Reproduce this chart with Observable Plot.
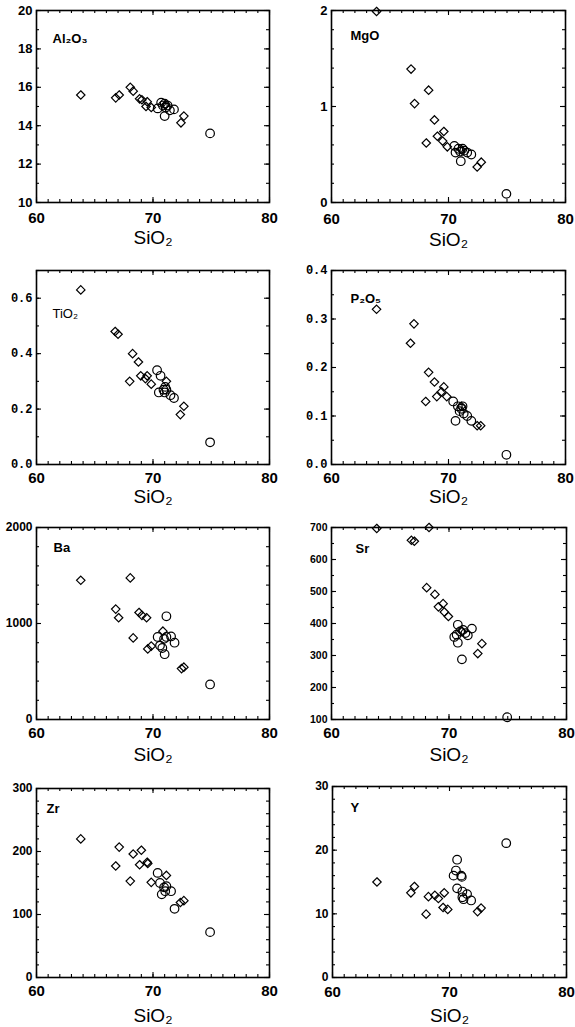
<!DOCTYPE html>
<html><head><meta charset="utf-8">
<script src="https://cdn.jsdelivr.net/npm/d3@7"></script>
<script src="https://cdn.jsdelivr.net/npm/@observablehq/plot@0.6"></script>
<style>
body{margin:0;background:#fff;}
#root{position:relative;width:575px;height:1027px;overflow:hidden;background:#fff;}
.panel{position:absolute;}
</style></head><body><div id="root"></div>
<script>
// ---- data: [SiO2, value] ----
const xTicks = [60, 70, 80];

const al2o3Diamonds = [[63.8,15.6],[66.8,15.45],[67.1,15.6],[68.05,16.0],[68.3,15.8],[68.85,15.4],[69.05,15.35],[69.5,15.25],[69.4,15.0],[69.85,14.95],[72.65,14.5],[72.4,14.15],[71.1,15.1]];
const al2o3Circles = [[70.4,14.9],[70.7,15.2],[70.85,15.05],[71.0,15.15],[71.1,14.95],[71.25,15.05],[71.45,14.8],[71.0,14.5],[71.8,14.85],[74.9,13.6]];
const al2o3Ticks = [10,12,14,16,18,20];

const mgoDiamonds = [[63.85,1.99],[66.8,1.39],[67.1,1.03],[68.3,1.17],[68.1,0.62],[68.8,0.86],[69.6,0.74],[69.05,0.69],[69.5,0.64],[69.9,0.58],[72.45,0.37],[72.8,0.42],[71.1,0.55]];
const mgoCircles = [[70.5,0.59],[70.6,0.52],[71.05,0.43],[70.85,0.56],[71.0,0.53],[71.2,0.56],[71.35,0.54],[71.6,0.52],[71.95,0.50],[74.95,0.09]];
const mgoTicks = [0,1,2];

const tio2Diamonds = [[63.8,0.63],[66.75,0.48],[67.0,0.47],[68.25,0.40],[68.75,0.37],[68.0,0.30],[68.95,0.32],[69.5,0.32],[69.35,0.31],[69.85,0.29],[71.15,0.30],[72.35,0.18],[72.65,0.21]];
const tio2Circles = [[70.35,0.34],[70.65,0.32],[70.5,0.26],[70.9,0.27],[71.05,0.28],[71.15,0.27],[71.0,0.26],[71.5,0.25],[71.8,0.24],[74.9,0.08]];
const tio2Ticks = [0,0.2,0.4,0.6];

const p2o5Diamonds = [[63.85,0.32],[67.05,0.29],[66.75,0.25],[68.3,0.19],[68.8,0.17],[69.6,0.16],[68.05,0.13],[69.0,0.14],[69.4,0.15],[69.85,0.14],[72.45,0.08],[72.75,0.08],[71.1,0.12]];
const p2o5Circles = [[70.4,0.13],[70.6,0.09],[70.8,0.12],[70.95,0.11],[71.1,0.115],[71.2,0.12],[71.3,0.105],[71.6,0.10],[71.95,0.09],[74.95,0.02]];
const p2o5Ticks = [0,0.1,0.2,0.3,0.4];

const baDiamonds = [[63.8,1450],[68.05,1475],[66.8,1150],[67.05,1060],[68.8,1115],[69.05,1085],[69.45,1060],[68.3,850],[69.55,735],[69.85,765],[70.85,920],[72.45,530],[72.65,545]];
const baCircles = [[71.15,1075],[70.4,860],[70.6,770],[70.8,745],[71.0,680],[71.15,860],[71.55,865],[71.85,800],[70.95,840],[74.9,365]];
const baTicks = [0,1000,2000];

const srDiamonds = [[63.85,697],[68.3,700],[66.8,660],[67.05,657],[68.1,512],[68.8,491],[69.5,462],[69.1,452],[69.6,436],[69.95,422],[72.45,306],[72.8,337],[71.1,375]];
const srCircles = [[70.75,396],[70.45,358],[70.65,365],[70.75,340],[71.1,288],[70.95,375],[71.2,380],[71.4,370],[71.6,363],[71.95,384],[74.95,107]];
const srTicks = [100,200,300,400,500,600,700];

const zrDiamonds = [[63.8,220],[67.1,207],[66.8,177],[68.3,196],[69.0,202],[68.85,179],[69.5,183],[69.55,181],[68.05,153],[69.85,151],[71.15,162],[72.35,119],[72.65,122]];
const zrCircles = [[70.4,166],[70.6,150],[70.75,132],[70.95,143],[71.05,137],[71.15,145],[71.55,137],[71.85,109],[74.9,72]];
const zrTicks = [0,100,200,300];

const yDiamonds = [[63.8,15.0],[66.7,13.3],[67.0,14.3],[68.2,12.7],[68.0,9.95],[68.75,12.9],[69.05,12.4],[69.55,13.3],[69.45,11.0],[69.85,10.7],[72.4,10.35],[72.7,10.9]];
const yCircles = [[70.65,18.5],[70.55,16.8],[70.35,16.0],[71.0,16.0],[71.05,15.8],[70.65,14.0],[71.1,13.5],[71.1,12.6],[71.2,12.3],[71.5,13.1],[71.85,12.1],[74.85,21.1]];
const yTicks = [0,10,20,30];

// ---- layout ----
const SANS = "Liberation Sans, Arial, Helvetica, DejaVu Sans, sans-serif";
const MONO = "Liberation Mono, Courier New, DejaVu Sans Mono, monospace";
const ML = 36, MR = 8, MT = 14, MB = 52;

const panels = [
  {name:"Al₂O₃", dia:al2o3Diamonds, cir:al2o3Circles, ticks:al2o3Ticks, dom:[10,20], minor:1, frame:[36,10,269,202], fmt:d3.format("d"), fs:13, ff:SANS, nx:16, ny:23, xPad:10, lab:28},
  {name:"MgO", dia:mgoDiamonds, cir:mgoCircles, ticks:mgoTicks, dom:[0,2], minor:0.2, frame:[331,10,565,202], fmt:d3.format("d"), fs:13, ff:SANS, nx:19, ny:20, xPad:11, lab:30},
  {name:"TiO₂", dia:tio2Diamonds, cir:tio2Circles, ticks:tio2Ticks, dom:[0,0.7], minor:0.1, frame:[36,270,269,464], fmt:d3.format(".1f"), fs:12, ff:MONO, nx:16, ny:38, xPad:8, lab:25, nw:"normal"},
  {name:"P₂O₅", dia:p2o5Diamonds, cir:p2o5Circles, ticks:p2o5Ticks, dom:[0,0.4], minor:0.05, frame:[331,270,565,464], fmt:d3.format(".1f"), fs:12, ff:MONO, nx:19, ny:23, xPad:8, lab:25},
  {name:"Ba", dia:baDiamonds, cir:baCircles, ticks:baTicks, dom:[0,2000], minor:200, frame:[36,527,269,719], fmt:d3.format("d"), fs:12, ff:SANS, nx:17, ny:15, xPad:8, lab:28},
  {name:"Sr", dia:srDiamonds, cir:srCircles, ticks:srTicks, dom:[100,700], minor:50, frame:[331,527,566,719], fmt:d3.format("d"), fs:10.5, ff:SANS, nx:24, ny:16, xPad:8, lab:28},
  {name:"Zr", dia:zrDiamonds, cir:zrCircles, ticks:zrTicks, dom:[0,300], minor:20, frame:[36,788,269,977], fmt:d3.format("d"), fs:12, ff:SANS, nx:10, ny:15, xPad:8, lab:31},
  {name:"Y", dia:yDiamonds, cir:yCircles, ticks:yTicks, dom:[0,30], minor:2, frame:[332,786,566,977], fmt:d3.format("d"), fs:12, ff:SANS, nx:18, ny:16, xPad:9, lab:31}
];

const root = document.getElementById("root");

for (const p of panels) {
  const fw = p.frame[2] - p.frame[0], fh = p.frame[3] - p.frame[1];
  const width = ML + fw + MR, height = MT + fh + MB;
  const xMinor = d3.range(60, 80.0001, 1);
  const yMinor = d3.range(p.dom[0], p.dom[1] + p.minor / 2, p.minor);
  const tick = {stroke: "black", strokeWidth: 1.1};
  const chart = Plot.plot({
    width, height,
    marginLeft: ML, marginRight: MR, marginTop: MT, marginBottom: MB,
    x: {domain: [60, 80]},
    y: {domain: p.dom},
    style: {background: "white", fontFamily: SANS, overflow: "visible"},
    marks: [
      // minor ticks, inward on all four sides
      Plot.tickX(xMinor, {x: d => d, insetTop: fh - 3, ...tick}),
      Plot.tickX(xMinor, {x: d => d, insetBottom: fh - 3, ...tick}),
      Plot.tickY(yMinor, {y: d => d, insetRight: fw - 3, ...tick}),
      Plot.tickY(yMinor, {y: d => d, insetLeft: fw - 3, ...tick}),
      // major ticks
      Plot.tickX(xTicks, {x: d => d, insetTop: fh - 5, ...tick}),
      Plot.tickX(xTicks, {x: d => d, insetBottom: fh - 5, ...tick}),
      Plot.tickY(p.ticks, {y: d => d, insetRight: fw - 5, ...tick}),
      Plot.tickY(p.ticks, {y: d => d, insetLeft: fw - 5, ...tick}),
      Plot.frame({stroke: "black", strokeWidth: 1.6}),
      Plot.axisX(xTicks, {tickSize: 0, tickPadding: p.xPad, fontSize: 15, fontWeight: "bold", fontFamily: SANS, label: null}),
      Plot.axisY(p.ticks, {tickSize: 0, tickPadding: 4, fontSize: p.fs, fontWeight: "bold", fontFamily: p.ff, tickFormat: p.fmt, label: null}),
      Plot.dot(p.dia, {x: d => d[0], y: d => d[1], symbol: "diamond2", r: 3.8, stroke: "black", strokeWidth: 1.2, fill: "none"}),
      Plot.dot(p.cir, {x: d => d[0], y: d => d[1], symbol: "circle", r: 4.3, stroke: "black", strokeWidth: 1.2, fill: "none"}),
      Plot.text([p.name], {text: d => d, frameAnchor: "top-left", dx: p.nx, dy: p.ny, textAnchor: "start", lineAnchor: "top", fontSize: 13, fontWeight: p.nw || "bold", fill: "black"}),
      Plot.text(["SiO₂"], {text: d => d, frameAnchor: "bottom", dy: p.lab, lineAnchor: "top", fontSize: 19, fill: "black"})
    ]
  });
  const div = document.createElement("div");
  div.className = "panel";
  div.style.left = (p.frame[0] - ML) + "px";
  div.style.top = (p.frame[1] - MT) + "px";
  div.appendChild(chart);
  root.appendChild(div);
}
</script>
</body></html>
